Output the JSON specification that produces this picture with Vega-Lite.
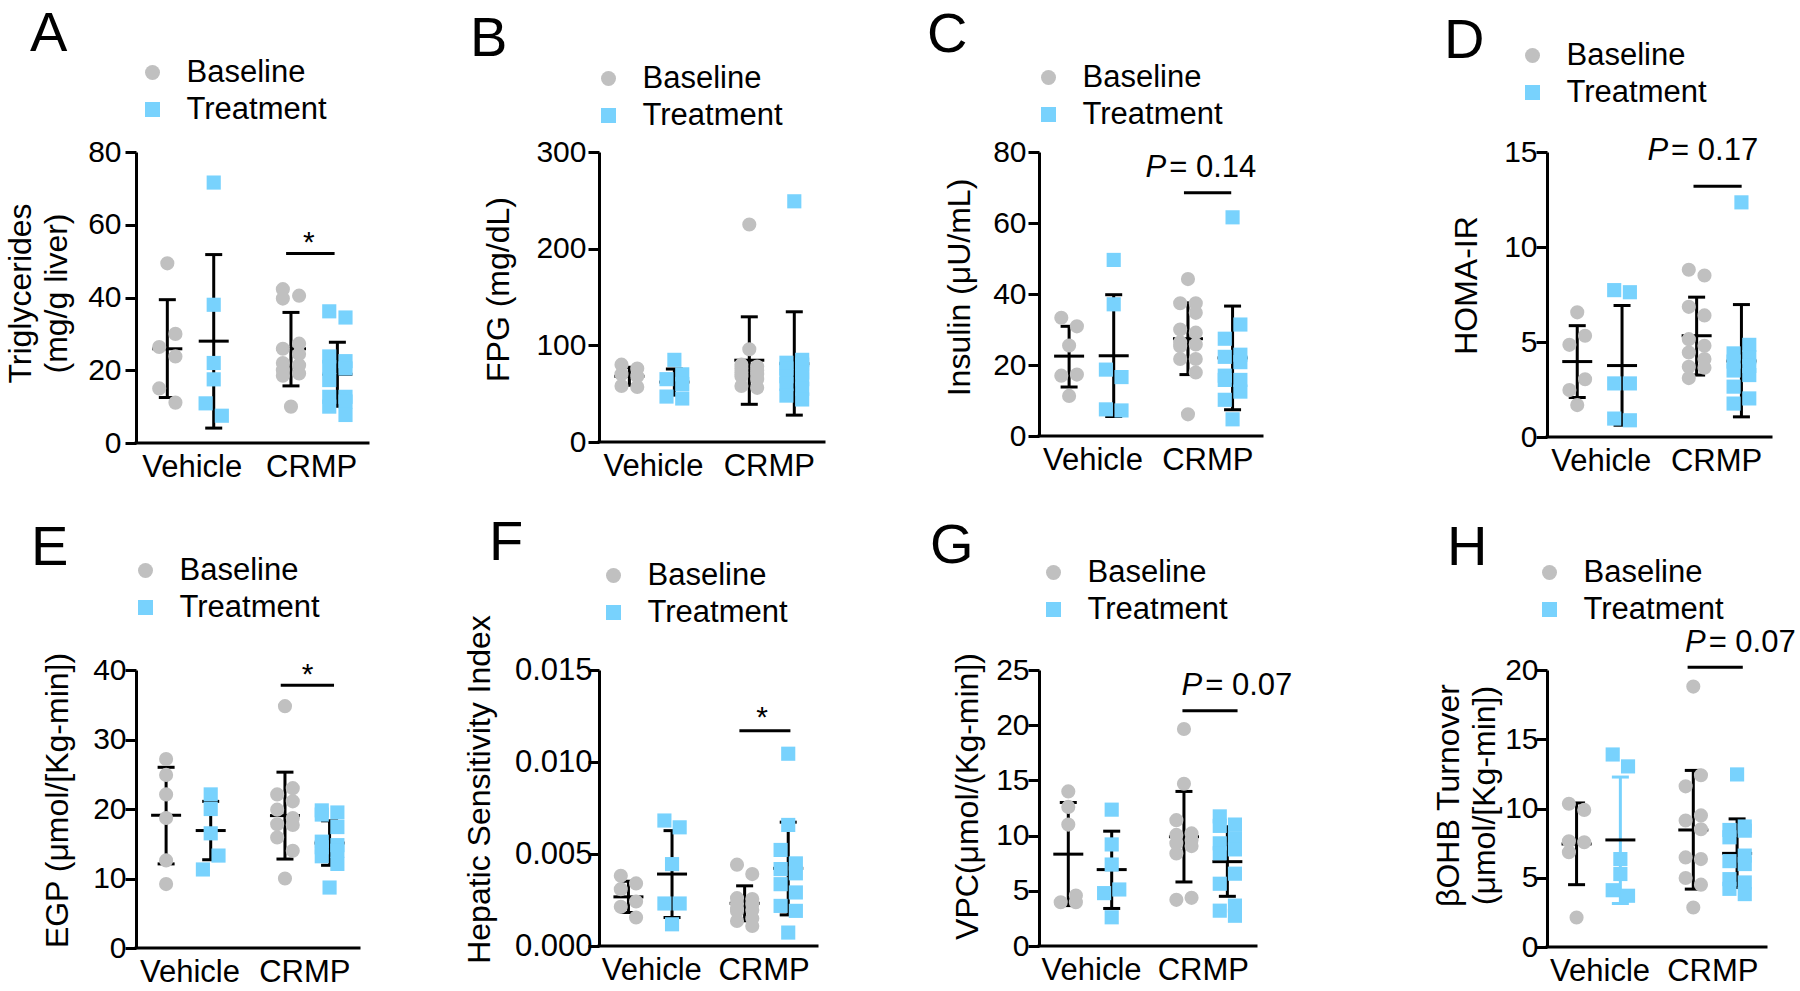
{
"$schema": "https://vega.github.io/schema/vega-lite/v6.json",
"padding": {"left": 4, "top": 6, "right": 0, "bottom": 0},
"background": "white",
"datasets": {
"pts": [
{"panel":"A","cond":"Vehicle","series":"Baseline","value":49.4},{"panel":"A","cond":"Vehicle","series":"Baseline","value":30},{"panel":"A","cond":"Vehicle","series":"Baseline","value":26.4},{"panel":"A","cond":"Vehicle","series":"Baseline","value":23.8},{"panel":"A","cond":"Vehicle","series":"Baseline","value":15},{"panel":"A","cond":"Vehicle","series":"Baseline","value":11.1},
{"panel":"A","cond":"Vehicle","series":"Treatment","value":71.6},{"panel":"A","cond":"Vehicle","series":"Treatment","value":38},{"panel":"A","cond":"Vehicle","series":"Treatment","value":22},{"panel":"A","cond":"Vehicle","series":"Treatment","value":17.5},{"panel":"A","cond":"Vehicle","series":"Treatment","value":10.9},{"panel":"A","cond":"Vehicle","series":"Treatment","value":7.5},
{"panel":"A","cond":"CRMP","series":"Baseline","value":42.3},{"panel":"A","cond":"CRMP","series":"Baseline","value":40.5},{"panel":"A","cond":"CRMP","series":"Baseline","value":39.7},{"panel":"A","cond":"CRMP","series":"Baseline","value":27.3},{"panel":"A","cond":"CRMP","series":"Baseline","value":25.9},{"panel":"A","cond":"CRMP","series":"Baseline","value":24.5},{"panel":"A","cond":"CRMP","series":"Baseline","value":22},{"panel":"A","cond":"CRMP","series":"Baseline","value":21.4},{"panel":"A","cond":"CRMP","series":"Baseline","value":20},{"panel":"A","cond":"CRMP","series":"Baseline","value":19.1},{"panel":"A","cond":"CRMP","series":"Baseline","value":18.5},{"panel":"A","cond":"CRMP","series":"Baseline","value":10},
{"panel":"A","cond":"CRMP","series":"Treatment","value":36.2},{"panel":"A","cond":"CRMP","series":"Treatment","value":34.5},{"panel":"A","cond":"CRMP","series":"Treatment","value":23.8},{"panel":"A","cond":"CRMP","series":"Treatment","value":22.5},{"panel":"A","cond":"CRMP","series":"Treatment","value":20.9},{"panel":"A","cond":"CRMP","series":"Treatment","value":20.5},{"panel":"A","cond":"CRMP","series":"Treatment","value":17.3},{"panel":"A","cond":"CRMP","series":"Treatment","value":12.7},{"panel":"A","cond":"CRMP","series":"Treatment","value":12.7},{"panel":"A","cond":"CRMP","series":"Treatment","value":11.4},{"panel":"A","cond":"CRMP","series":"Treatment","value":10},{"panel":"A","cond":"CRMP","series":"Treatment","value":7.7},
{"panel":"B","cond":"Vehicle","series":"Baseline","value":80},{"panel":"B","cond":"Vehicle","series":"Baseline","value":76},{"panel":"B","cond":"Vehicle","series":"Baseline","value":70},{"panel":"B","cond":"Vehicle","series":"Baseline","value":68},{"panel":"B","cond":"Vehicle","series":"Baseline","value":58},{"panel":"B","cond":"Vehicle","series":"Baseline","value":57},
{"panel":"B","cond":"Vehicle","series":"Treatment","value":85},{"panel":"B","cond":"Vehicle","series":"Treatment","value":70},{"panel":"B","cond":"Vehicle","series":"Treatment","value":65},{"panel":"B","cond":"Vehicle","series":"Treatment","value":60},{"panel":"B","cond":"Vehicle","series":"Treatment","value":47},{"panel":"B","cond":"Vehicle","series":"Treatment","value":45},
{"panel":"B","cond":"CRMP","series":"Baseline","value":225},{"panel":"B","cond":"CRMP","series":"Baseline","value":96},{"panel":"B","cond":"CRMP","series":"Baseline","value":80},{"panel":"B","cond":"CRMP","series":"Baseline","value":78},{"panel":"B","cond":"CRMP","series":"Baseline","value":76},{"panel":"B","cond":"CRMP","series":"Baseline","value":74},{"panel":"B","cond":"CRMP","series":"Baseline","value":72},{"panel":"B","cond":"CRMP","series":"Baseline","value":70},{"panel":"B","cond":"CRMP","series":"Baseline","value":68},{"panel":"B","cond":"CRMP","series":"Baseline","value":65},{"panel":"B","cond":"CRMP","series":"Baseline","value":58},{"panel":"B","cond":"CRMP","series":"Baseline","value":56},
{"panel":"B","cond":"CRMP","series":"Treatment","value":249},{"panel":"B","cond":"CRMP","series":"Treatment","value":85},{"panel":"B","cond":"CRMP","series":"Treatment","value":82},{"panel":"B","cond":"CRMP","series":"Treatment","value":80},{"panel":"B","cond":"CRMP","series":"Treatment","value":76},{"panel":"B","cond":"CRMP","series":"Treatment","value":72},{"panel":"B","cond":"CRMP","series":"Treatment","value":68},{"panel":"B","cond":"CRMP","series":"Treatment","value":65},{"panel":"B","cond":"CRMP","series":"Treatment","value":60},{"panel":"B","cond":"CRMP","series":"Treatment","value":55},{"panel":"B","cond":"CRMP","series":"Treatment","value":48},{"panel":"B","cond":"CRMP","series":"Treatment","value":44},
{"panel":"C","cond":"Vehicle","series":"Baseline","value":33.3},{"panel":"C","cond":"Vehicle","series":"Baseline","value":30.9},{"panel":"C","cond":"Vehicle","series":"Baseline","value":25.5},{"panel":"C","cond":"Vehicle","series":"Baseline","value":17.3},{"panel":"C","cond":"Vehicle","series":"Baseline","value":17},{"panel":"C","cond":"Vehicle","series":"Baseline","value":11.3},
{"panel":"C","cond":"Vehicle","series":"Treatment","value":49.6},{"panel":"C","cond":"Vehicle","series":"Treatment","value":37.1},{"panel":"C","cond":"Vehicle","series":"Treatment","value":18.7},{"panel":"C","cond":"Vehicle","series":"Treatment","value":16.6},{"panel":"C","cond":"Vehicle","series":"Treatment","value":7.5},{"panel":"C","cond":"Vehicle","series":"Treatment","value":7.2},
{"panel":"C","cond":"CRMP","series":"Baseline","value":44.2},{"panel":"C","cond":"CRMP","series":"Baseline","value":37.4},{"panel":"C","cond":"CRMP","series":"Baseline","value":37.4},{"panel":"C","cond":"CRMP","series":"Baseline","value":34.7},{"panel":"C","cond":"CRMP","series":"Baseline","value":30},{"panel":"C","cond":"CRMP","series":"Baseline","value":29.1},{"panel":"C","cond":"CRMP","series":"Baseline","value":26.4},{"panel":"C","cond":"CRMP","series":"Baseline","value":25.8},{"panel":"C","cond":"CRMP","series":"Baseline","value":25.3},{"panel":"C","cond":"CRMP","series":"Baseline","value":21.7},{"panel":"C","cond":"CRMP","series":"Baseline","value":21.7},{"panel":"C","cond":"CRMP","series":"Baseline","value":17.9},{"panel":"C","cond":"CRMP","series":"Baseline","value":6.1},
{"panel":"C","cond":"CRMP","series":"Treatment","value":61.6},{"panel":"C","cond":"CRMP","series":"Treatment","value":31.4},{"panel":"C","cond":"CRMP","series":"Treatment","value":27.4},{"panel":"C","cond":"CRMP","series":"Treatment","value":22.9},{"panel":"C","cond":"CRMP","series":"Treatment","value":22.3},{"panel":"C","cond":"CRMP","series":"Treatment","value":20.8},{"panel":"C","cond":"CRMP","series":"Treatment","value":17},{"panel":"C","cond":"CRMP","series":"Treatment","value":15.8},{"panel":"C","cond":"CRMP","series":"Treatment","value":15.8},{"panel":"C","cond":"CRMP","series":"Treatment","value":12.5},{"panel":"C","cond":"CRMP","series":"Treatment","value":10.2},{"panel":"C","cond":"CRMP","series":"Treatment","value":4.7},
{"panel":"D","cond":"Vehicle","series":"Baseline","value":6.56},{"panel":"D","cond":"Vehicle","series":"Baseline","value":5.33},{"panel":"D","cond":"Vehicle","series":"Baseline","value":4.85},{"panel":"D","cond":"Vehicle","series":"Baseline","value":3.04},{"panel":"D","cond":"Vehicle","series":"Baseline","value":2.47},{"panel":"D","cond":"Vehicle","series":"Baseline","value":1.68},
{"panel":"D","cond":"Vehicle","series":"Treatment","value":7.73},{"panel":"D","cond":"Vehicle","series":"Treatment","value":7.62},{"panel":"D","cond":"Vehicle","series":"Treatment","value":2.82},{"panel":"D","cond":"Vehicle","series":"Treatment","value":2.82},{"panel":"D","cond":"Vehicle","series":"Treatment","value":0.97},{"panel":"D","cond":"Vehicle","series":"Treatment","value":0.88},
{"panel":"D","cond":"CRMP","series":"Baseline","value":8.8},{"panel":"D","cond":"CRMP","series":"Baseline","value":8.5},{"panel":"D","cond":"CRMP","series":"Baseline","value":6.85},{"panel":"D","cond":"CRMP","series":"Baseline","value":6.4},{"panel":"D","cond":"CRMP","series":"Baseline","value":5.15},{"panel":"D","cond":"CRMP","series":"Baseline","value":4.8},{"panel":"D","cond":"CRMP","series":"Baseline","value":4.45},{"panel":"D","cond":"CRMP","series":"Baseline","value":4.1},{"panel":"D","cond":"CRMP","series":"Baseline","value":3.7},{"panel":"D","cond":"CRMP","series":"Baseline","value":3.65},{"panel":"D","cond":"CRMP","series":"Baseline","value":3.1},
{"panel":"D","cond":"CRMP","series":"Treatment","value":12.35},{"panel":"D","cond":"CRMP","series":"Treatment","value":4.85},{"panel":"D","cond":"CRMP","series":"Treatment","value":4.4},{"panel":"D","cond":"CRMP","series":"Treatment","value":4.2},{"panel":"D","cond":"CRMP","series":"Treatment","value":3.97},{"panel":"D","cond":"CRMP","series":"Treatment","value":3.74},{"panel":"D","cond":"CRMP","series":"Treatment","value":3.5},{"panel":"D","cond":"CRMP","series":"Treatment","value":3.26},{"panel":"D","cond":"CRMP","series":"Treatment","value":2.65},{"panel":"D","cond":"CRMP","series":"Treatment","value":2.03},{"panel":"D","cond":"CRMP","series":"Treatment","value":1.76},
{"panel":"E","cond":"Vehicle","series":"Baseline","value":27.2},{"panel":"E","cond":"Vehicle","series":"Baseline","value":24.9},{"panel":"E","cond":"Vehicle","series":"Baseline","value":22.1},{"panel":"E","cond":"Vehicle","series":"Baseline","value":18.7},{"panel":"E","cond":"Vehicle","series":"Baseline","value":12.6},{"panel":"E","cond":"Vehicle","series":"Baseline","value":9.2},
{"panel":"E","cond":"Vehicle","series":"Treatment","value":22.1},{"panel":"E","cond":"Vehicle","series":"Treatment","value":20.0},{"panel":"E","cond":"Vehicle","series":"Treatment","value":16.5},{"panel":"E","cond":"Vehicle","series":"Treatment","value":13.3},{"panel":"E","cond":"Vehicle","series":"Treatment","value":11.3},
{"panel":"E","cond":"CRMP","series":"Baseline","value":34.8},{"panel":"E","cond":"CRMP","series":"Baseline","value":23},{"panel":"E","cond":"CRMP","series":"Baseline","value":22.1},{"panel":"E","cond":"CRMP","series":"Baseline","value":21.1},{"panel":"E","cond":"CRMP","series":"Baseline","value":19.9},{"panel":"E","cond":"CRMP","series":"Baseline","value":18.7},{"panel":"E","cond":"CRMP","series":"Baseline","value":17.8},{"panel":"E","cond":"CRMP","series":"Baseline","value":17.7},{"panel":"E","cond":"CRMP","series":"Baseline","value":15.9},{"panel":"E","cond":"CRMP","series":"Baseline","value":14},{"panel":"E","cond":"CRMP","series":"Baseline","value":10},
{"panel":"E","cond":"CRMP","series":"Treatment","value":19.8},{"panel":"E","cond":"CRMP","series":"Treatment","value":19.5},{"panel":"E","cond":"CRMP","series":"Treatment","value":19.2},{"panel":"E","cond":"CRMP","series":"Treatment","value":17.4},{"panel":"E","cond":"CRMP","series":"Treatment","value":15.3},{"panel":"E","cond":"CRMP","series":"Treatment","value":14.8},{"panel":"E","cond":"CRMP","series":"Treatment","value":14.5},{"panel":"E","cond":"CRMP","series":"Treatment","value":14},{"panel":"E","cond":"CRMP","series":"Treatment","value":13.2},{"panel":"E","cond":"CRMP","series":"Treatment","value":12.1},{"panel":"E","cond":"CRMP","series":"Treatment","value":8.7},
{"panel":"F","cond":"Vehicle","series":"Baseline","value":0.00382},{"panel":"F","cond":"Vehicle","series":"Baseline","value":0.0034},{"panel":"F","cond":"Vehicle","series":"Baseline","value":0.00309},{"panel":"F","cond":"Vehicle","series":"Baseline","value":0.00242},{"panel":"F","cond":"Vehicle","series":"Baseline","value":0.00213},{"panel":"F","cond":"Vehicle","series":"Baseline","value":0.00155},
{"panel":"F","cond":"Vehicle","series":"Treatment","value":0.00682},{"panel":"F","cond":"Vehicle","series":"Treatment","value":0.00645},{"panel":"F","cond":"Vehicle","series":"Treatment","value":0.00445},{"panel":"F","cond":"Vehicle","series":"Treatment","value":0.00231},{"panel":"F","cond":"Vehicle","series":"Treatment","value":0.00231},{"panel":"F","cond":"Vehicle","series":"Treatment","value":0.00118},
{"panel":"F","cond":"CRMP","series":"Baseline","value":0.00442},{"panel":"F","cond":"CRMP","series":"Baseline","value":0.00391},{"panel":"F","cond":"CRMP","series":"Baseline","value":0.0026},{"panel":"F","cond":"CRMP","series":"Baseline","value":0.00255},{"panel":"F","cond":"CRMP","series":"Baseline","value":0.0023},{"panel":"F","cond":"CRMP","series":"Baseline","value":0.00227},{"panel":"F","cond":"CRMP","series":"Baseline","value":0.002},{"panel":"F","cond":"CRMP","series":"Baseline","value":0.00195},{"panel":"F","cond":"CRMP","series":"Baseline","value":0.0019},{"panel":"F","cond":"CRMP","series":"Baseline","value":0.0015},{"panel":"F","cond":"CRMP","series":"Baseline","value":0.00136},{"panel":"F","cond":"CRMP","series":"Baseline","value":0.00109},
{"panel":"F","cond":"CRMP","series":"Treatment","value":0.01045},{"panel":"F","cond":"CRMP","series":"Treatment","value":0.00658},{"panel":"F","cond":"CRMP","series":"Treatment","value":0.00522},{"panel":"F","cond":"CRMP","series":"Treatment","value":0.00449},{"panel":"F","cond":"CRMP","series":"Treatment","value":0.00418},{"panel":"F","cond":"CRMP","series":"Treatment","value":0.00395},{"panel":"F","cond":"CRMP","series":"Treatment","value":0.00336},{"panel":"F","cond":"CRMP","series":"Treatment","value":0.00291},{"panel":"F","cond":"CRMP","series":"Treatment","value":0.00218},{"panel":"F","cond":"CRMP","series":"Treatment","value":0.00191},{"panel":"F","cond":"CRMP","series":"Treatment","value":0.00073},
{"panel":"G","cond":"Vehicle","series":"Baseline","value":14.0},{"panel":"G","cond":"Vehicle","series":"Baseline","value":12.6},{"panel":"G","cond":"Vehicle","series":"Baseline","value":11.0},{"panel":"G","cond":"Vehicle","series":"Baseline","value":4.57},{"panel":"G","cond":"Vehicle","series":"Baseline","value":3.96},{"panel":"G","cond":"Vehicle","series":"Baseline","value":3.96},
{"panel":"G","cond":"Vehicle","series":"Treatment","value":12.35},{"panel":"G","cond":"Vehicle","series":"Treatment","value":9.2},{"panel":"G","cond":"Vehicle","series":"Treatment","value":7.38},{"panel":"G","cond":"Vehicle","series":"Treatment","value":5.12},{"panel":"G","cond":"Vehicle","series":"Treatment","value":4.79},{"panel":"G","cond":"Vehicle","series":"Treatment","value":2.6},
{"panel":"G","cond":"CRMP","series":"Baseline","value":19.66},{"panel":"G","cond":"CRMP","series":"Baseline","value":14.7},{"panel":"G","cond":"CRMP","series":"Baseline","value":11.4},{"panel":"G","cond":"CRMP","series":"Baseline","value":10.2},{"panel":"G","cond":"CRMP","series":"Baseline","value":10.06},{"panel":"G","cond":"CRMP","series":"Baseline","value":9.6},{"panel":"G","cond":"CRMP","series":"Baseline","value":9.3},{"panel":"G","cond":"CRMP","series":"Baseline","value":9.05},{"panel":"G","cond":"CRMP","series":"Baseline","value":8.38},{"panel":"G","cond":"CRMP","series":"Baseline","value":4.36},{"panel":"G","cond":"CRMP","series":"Baseline","value":4.18},
{"panel":"G","cond":"CRMP","series":"Treatment","value":11.74},{"panel":"G","cond":"CRMP","series":"Treatment","value":11},{"panel":"G","cond":"CRMP","series":"Treatment","value":10.88},{"panel":"G","cond":"CRMP","series":"Treatment","value":9.76},{"panel":"G","cond":"CRMP","series":"Treatment","value":9.3},{"panel":"G","cond":"CRMP","series":"Treatment","value":8.75},{"panel":"G","cond":"CRMP","series":"Treatment","value":8.4},{"panel":"G","cond":"CRMP","series":"Treatment","value":6.55},{"panel":"G","cond":"CRMP","series":"Treatment","value":5.64},{"panel":"G","cond":"CRMP","series":"Treatment","value":3.66},{"panel":"G","cond":"CRMP","series":"Treatment","value":3.2},{"panel":"G","cond":"CRMP","series":"Treatment","value":2.74},
{"panel":"H","cond":"Vehicle","series":"Baseline","value":10.34},{"panel":"H","cond":"Vehicle","series":"Baseline","value":9.9},{"panel":"H","cond":"Vehicle","series":"Baseline","value":7.63},{"panel":"H","cond":"Vehicle","series":"Baseline","value":7.56},{"panel":"H","cond":"Vehicle","series":"Baseline","value":6.84},{"panel":"H","cond":"Vehicle","series":"Baseline","value":2.13},
{"panel":"H","cond":"Vehicle","series":"Treatment","value":13.9},{"panel":"H","cond":"Vehicle","series":"Treatment","value":13.04},{"panel":"H","cond":"Vehicle","series":"Treatment","value":6.35},{"panel":"H","cond":"Vehicle","series":"Treatment","value":5.27},{"panel":"H","cond":"Vehicle","series":"Treatment","value":4.1},{"panel":"H","cond":"Vehicle","series":"Treatment","value":3.7},
{"panel":"H","cond":"CRMP","series":"Baseline","value":18.8},{"panel":"H","cond":"CRMP","series":"Baseline","value":12.4},{"panel":"H","cond":"CRMP","series":"Baseline","value":11.6},{"panel":"H","cond":"CRMP","series":"Baseline","value":9.5},{"panel":"H","cond":"CRMP","series":"Baseline","value":9.13},{"panel":"H","cond":"CRMP","series":"Baseline","value":8.5},{"panel":"H","cond":"CRMP","series":"Baseline","value":6.47},{"panel":"H","cond":"CRMP","series":"Baseline","value":6.35},{"panel":"H","cond":"CRMP","series":"Baseline","value":4.98},{"panel":"H","cond":"CRMP","series":"Baseline","value":4.5},{"panel":"H","cond":"CRMP","series":"Baseline","value":2.85},
{"panel":"H","cond":"CRMP","series":"Treatment","value":12.46},{"panel":"H","cond":"CRMP","series":"Treatment","value":8.7},{"panel":"H","cond":"CRMP","series":"Treatment","value":8.45},{"panel":"H","cond":"CRMP","series":"Treatment","value":8.4},{"panel":"H","cond":"CRMP","series":"Treatment","value":7.92},{"panel":"H","cond":"CRMP","series":"Treatment","value":6.6},{"panel":"H","cond":"CRMP","series":"Treatment","value":6.2},{"panel":"H","cond":"CRMP","series":"Treatment","value":5.99},{"panel":"H","cond":"CRMP","series":"Treatment","value":4.9},{"panel":"H","cond":"CRMP","series":"Treatment","value":4.66},{"panel":"H","cond":"CRMP","series":"Treatment","value":4.2},{"panel":"H","cond":"CRMP","series":"Treatment","value":3.82}
],
"stats": [
{"panel":"A","cond":"Vehicle","series":"Baseline","mean":25.9,"lo":12.5,"hi":39.4},{"panel":"A","cond":"Vehicle","series":"Treatment","mean":28,"lo":4.1,"hi":51.8},{"panel":"A","cond":"CRMP","series":"Baseline","mean":25.9,"lo":15.7,"hi":35.9},{"panel":"A","cond":"CRMP","series":"Treatment","mean":18.9,"lo":10.1,"hi":27.7},
{"panel":"B","cond":"Vehicle","series":"Baseline","mean":68,"lo":58.7,"hi":77.3},{"panel":"B","cond":"Vehicle","series":"Treatment","mean":62,"lo":48.5,"hi":75.5},{"panel":"B","cond":"CRMP","series":"Baseline","mean":84.6,"lo":39,"hi":129.5},{"panel":"B","cond":"CRMP","series":"Treatment","mean":81,"lo":27.8,"hi":134.7},
{"panel":"C","cond":"Vehicle","series":"Baseline","mean":22.5,"lo":13.8,"hi":30.9},{"panel":"C","cond":"Vehicle","series":"Treatment","mean":22.6,"lo":5.5,"hi":39.8},{"panel":"C","cond":"CRMP","series":"Baseline","mean":27.4,"lo":17.3,"hi":37.5},{"panel":"C","cond":"CRMP","series":"Treatment","mean":22,"lo":7.4,"hi":36.6},
{"panel":"D","cond":"Vehicle","series":"Baseline","mean":3.97,"lo":2.08,"hi":5.86},{"panel":"D","cond":"Vehicle","series":"Treatment","mean":3.76,"lo":0.62,"hi":6.92},{"panel":"D","cond":"CRMP","series":"Baseline","mean":5.33,"lo":3.26,"hi":7.36},{"panel":"D","cond":"CRMP","series":"Treatment","mean":4.0,"lo":1.06,"hi":6.97},
{"panel":"E","cond":"Vehicle","series":"Baseline","mean":19.1,"lo":12.1,"hi":26},{"panel":"E","cond":"Vehicle","series":"Treatment","mean":16.9,"lo":12.7,"hi":21.1},{"panel":"E","cond":"CRMP","series":"Baseline","mean":19.05,"lo":12.8,"hi":25.3},{"panel":"E","cond":"CRMP","series":"Treatment","mean":15.1,"lo":11.9,"hi":18.3},
{"panel":"F","cond":"Vehicle","series":"Baseline","mean":0.00267,"lo":0.00182,"hi":0.00352},{"panel":"F","cond":"Vehicle","series":"Treatment","mean":0.00391,"lo":0.00155,"hi":0.00627},{"panel":"F","cond":"CRMP","series":"Baseline","mean":0.00232,"lo":0.00137,"hi":0.00327},{"panel":"F","cond":"CRMP","series":"Treatment","mean":0.00422,"lo":0.00169,"hi":0.00673},
{"panel":"G","cond":"Vehicle","series":"Baseline","mean":8.32,"lo":3.66,"hi":13.0},{"panel":"G","cond":"Vehicle","series":"Treatment","mean":6.92,"lo":3.4,"hi":10.4},{"panel":"G","cond":"CRMP","series":"Baseline","mean":9.9,"lo":5.8,"hi":14.0},{"panel":"G","cond":"CRMP","series":"Treatment","mean":7.64,"lo":4.5,"hi":10.8},
{"panel":"H","cond":"Vehicle","series":"Baseline","mean":7.44,"lo":4.5,"hi":10.4},{"panel":"H","cond":"Vehicle","series":"Treatment","mean":7.73,"lo":3.14,"hi":12.27},{"panel":"H","cond":"CRMP","series":"Baseline","mean":8.45,"lo":4.18,"hi":12.75},{"panel":"H","cond":"CRMP","series":"Treatment","mean":6.76,"lo":4.3,"hi":9.25}
],
"sig": [
{"panel":"A","y":52.1,"x1":6.47,"x2":8.56,"tx":7.45,"ty":52.6,"p":"","label":"*"},
{"panel":"C","y":68.5,"x1":6.5,"x2":8.62,"tx":5.75,"ty":72.9,"p":"P","label":"= 0.14"},
{"panel":"D","y":13.2,"x1":6.54,"x2":8.69,"tx":5.45,"ty":14.56,"p":"P","label":"= 0.17"},
{"panel":"E","y":37.8,"x1":6.49,"x2":8.88,"tx":7.69,"ty":38.0,"p":"","label":"*"},
{"panel":"F","y":0.0117,"x1":6.44,"x2":8.78,"tx":7.48,"ty":0.0119,"p":"","label":"*"},
{"panel":"G","y":21.3,"x1":6.61,"x2":9.15,"tx":7.57,"ty":22.7,"p":"P","label":"= 0.07"},
{"panel":"H","y":20.2,"x1":6.42,"x2":8.94,"tx":7.29,"ty":21.3,"p":"P","label":"= 0.07"}
]
},
"columns": 4,
"spacing": {"row": 227, "column": 0},
"bounds": "flush",
"align": "each",
"resolve": {"scale": {"color": "independent", "shape": "independent"}},
"concat": [
{
"width": 463, "height": 291,
"title": {"text": "A", "dx": -106, "offset": -6},
"layer": [
{"data": {"values": [{}]}, "mark": {"type": "rule", "strokeWidth": 3, "color": "black", "strokeCap": "square"},
 "encoding": {"x": {"datum": 0, "type": "quantitative", "scale": {"domain": [0, 19.957], "nice": false, "zero": false}, "axis": {"values": [2.4, 7.55], "labelExpr": "datum.value < 5 ? 'Vehicle' : 'CRMP'", "title": null, "domain": false, "ticks": false, "labelPadding": 9, "labelFontSize": 31}}, "x2": {"datum": 10},
 "y": {"datum": 0, "type": "quantitative", "scale": {"domain": [0, 80], "nice": false}, "axis": {"values": [0, 20, 40, 60, 80], "title": ["Triglycerides", "(mg/g liver)"], "titlePadding": 14, "labelPadding": 4, "titleY": 141}}}},
{"data": {"name": "stats"}, "transform": [{"filter": "datum.panel == 'A'"}, {"calculate": "(datum.cond == 'Vehicle' ? 1.35 : 6.68) + (datum.series == 'Treatment' ? 2 : 0)", "as": "xpos"}],
 "mark": {"type": "rule", "strokeWidth": 3, "color": "black"},
 "encoding": {"x": {"field": "xpos", "type": "quantitative", "scale": {"domain": [0, 19.957], "nice": false, "zero": false}}, "y": {"field": "lo", "type": "quantitative", "scale": {"domain": [0, 80], "nice": false}}, "y2": {"field": "hi"}}},
{"data": {"name": "stats"}, "transform": [{"filter": "datum.panel == 'A'"}, {"calculate": "(datum.cond == 'Vehicle' ? 1.35 : 6.68) + (datum.series == 'Treatment' ? 2 : 0)", "as": "xpos"}, {"fold": ["lo", "hi"], "as": ["bound", "bv"]}],
 "mark": {"type": "tick", "orient": "horizontal", "size": 17, "thickness": 3, "color": "black", "opacity": 1},
 "encoding": {"x": {"field": "xpos", "type": "quantitative", "scale": {"domain": [0, 19.957], "nice": false, "zero": false}}, "y": {"field": "bv", "type": "quantitative", "scale": {"domain": [0, 80], "nice": false}}}},
{"data": {"name": "stats"}, "transform": [{"filter": "datum.panel == 'A'"}, {"calculate": "(datum.cond == 'Vehicle' ? 1.35 : 6.68) + (datum.series == 'Treatment' ? 2 : 0)", "as": "xpos"}],
 "mark": {"type": "tick", "orient": "horizontal", "size": 30, "thickness": 3, "color": "black", "opacity": 1},
 "encoding": {"x": {"field": "xpos", "type": "quantitative", "scale": {"domain": [0, 19.957], "nice": false, "zero": false}}, "y": {"field": "mean", "type": "quantitative", "scale": {"domain": [0, 80], "nice": false}}}},
{"data": {"name": "pts"}, "transform": [{"filter": "datum.panel == 'A'"}, {"window": [{"op": "row_number", "as": "rn"}, {"op": "lag", "field": "value", "as": "prev"}, {"op": "lead", "field": "value", "as": "next"}], "groupby": ["cond", "series"], "sort": [{"field": "value", "order": "descending"}]}, {"calculate": "(datum.cond == 'Vehicle' ? 1.35 : 6.68) + (datum.series == 'Treatment' ? 2 : 0) + (((datum.prev == null || datum.prev - datum.value > 4) && (datum.next == null || datum.value - datum.next > 4)) ? 0 : (datum.rn % 2 == 0 ? 0.35 : -0.35))", "as": "xpos"}],
 "mark": {"type": "point", "filled": true, "opacity": 1, "size": 200, "strokeWidth": 0},
 "encoding": {"x": {"field": "xpos", "type": "quantitative", "scale": {"domain": [0, 19.957], "nice": false, "zero": false}}, "y": {"field": "value", "type": "quantitative", "scale": {"domain": [0, 80], "nice": false}},
  "color": {"field": "series", "type": "nominal", "scale": {"domain": ["Baseline", "Treatment"], "range": ["#c0c0c0", "#78d2fd"]}, "legend": {"orient": "none", "legendX": 1, "legendY": -95, "title": null}},
  "shape": {"field": "series", "type": "nominal", "scale": {"domain": ["Baseline", "Treatment"], "range": ["circle", "square"]}, "legend": {"orient": "none", "legendX": 1, "legendY": -95, "title": null}}}},
{"data": {"name": "sig"}, "transform": [{"filter": "datum.panel == 'A'"}], "mark": {"type": "rule", "strokeWidth": 3, "color": "black"},
 "encoding": {"x": {"field": "x1", "type": "quantitative", "scale": {"domain": [0, 19.957], "nice": false, "zero": false}}, "x2": {"field": "x2"}, "y": {"field": "y", "type": "quantitative", "scale": {"domain": [0, 80], "nice": false}}}},
{"data": {"name": "sig"}, "transform": [{"filter": "datum.panel == 'A'"}], "mark": {"type": "text", "fontSize": 30, "align": "center", "baseline": "alphabetic", "color": "black"},
 "encoding": {"x": {"field": "tx", "type": "quantitative", "scale": {"domain": [0, 19.957], "nice": false, "zero": false}}, "y": {"field": "ty", "type": "quantitative", "scale": {"domain": [0, 80], "nice": false}}, "text": {"field": "label"}}}
]
},
{
"width": 440, "height": 290,
"title": {"text": "B", "dx": -129, "offset": -5},
"layer": [
{"data": {"values": [{}]}, "mark": {"type": "rule", "strokeWidth": 3, "color": "black", "strokeCap": "square"},
 "encoding": {"x": {"datum": 0, "type": "quantitative", "scale": {"domain": [0, 19.556], "nice": false, "zero": false}, "axis": {"values": [2.4, 7.55], "labelExpr": "datum.value < 5 ? 'Vehicle' : 'CRMP'", "title": null, "domain": false, "ticks": false, "labelPadding": 9, "labelFontSize": 31}}, "x2": {"datum": 10},
 "y": {"datum": 0, "type": "quantitative", "scale": {"domain": [0, 300], "nice": false}, "axis": {"values": [0, 100, 200, 300], "title": "FPG (mg/dL)", "titlePadding": 20, "labelPadding": 2, "titleY": 137}}}},
{"data": {"name": "stats"}, "transform": [{"filter": "datum.panel == 'B'"}, {"calculate": "(datum.cond == 'Vehicle' ? 1.35 : 6.68) + (datum.series == 'Treatment' ? 2 : 0)", "as": "xpos"}],
 "mark": {"type": "rule", "strokeWidth": 3, "color": "black"},
 "encoding": {"x": {"field": "xpos", "type": "quantitative", "scale": {"domain": [0, 19.556], "nice": false, "zero": false}}, "y": {"field": "lo", "type": "quantitative", "scale": {"domain": [0, 300], "nice": false}}, "y2": {"field": "hi"}}},
{"data": {"name": "stats"}, "transform": [{"filter": "datum.panel == 'B'"}, {"calculate": "(datum.cond == 'Vehicle' ? 1.35 : 6.68) + (datum.series == 'Treatment' ? 2 : 0)", "as": "xpos"}, {"fold": ["lo", "hi"], "as": ["bound", "bv"]}],
 "mark": {"type": "tick", "orient": "horizontal", "size": 17, "thickness": 3, "color": "black", "opacity": 1},
 "encoding": {"x": {"field": "xpos", "type": "quantitative", "scale": {"domain": [0, 19.556], "nice": false, "zero": false}}, "y": {"field": "bv", "type": "quantitative", "scale": {"domain": [0, 300], "nice": false}}}},
{"data": {"name": "stats"}, "transform": [{"filter": "datum.panel == 'B'"}, {"calculate": "(datum.cond == 'Vehicle' ? 1.35 : 6.68) + (datum.series == 'Treatment' ? 2 : 0)", "as": "xpos"}],
 "mark": {"type": "tick", "orient": "horizontal", "size": 30, "thickness": 3, "color": "black", "opacity": 1},
 "encoding": {"x": {"field": "xpos", "type": "quantitative", "scale": {"domain": [0, 19.556], "nice": false, "zero": false}}, "y": {"field": "mean", "type": "quantitative", "scale": {"domain": [0, 300], "nice": false}}}},
{"data": {"name": "pts"}, "transform": [{"filter": "datum.panel == 'B'"}, {"window": [{"op": "row_number", "as": "rn"}, {"op": "lag", "field": "value", "as": "prev"}, {"op": "lead", "field": "value", "as": "next"}], "groupby": ["cond", "series"], "sort": [{"field": "value", "order": "descending"}]}, {"calculate": "(datum.cond == 'Vehicle' ? 1.35 : 6.68) + (datum.series == 'Treatment' ? 2 : 0) + (((datum.prev == null || datum.prev - datum.value > 14) && (datum.next == null || datum.value - datum.next > 14)) ? 0 : (datum.rn % 2 == 0 ? 0.35 : -0.35))", "as": "xpos"}],
 "mark": {"type": "point", "filled": true, "opacity": 1, "size": 200, "strokeWidth": 0},
 "encoding": {"x": {"field": "xpos", "type": "quantitative", "scale": {"domain": [0, 19.556], "nice": false, "zero": false}}, "y": {"field": "value", "type": "quantitative", "scale": {"domain": [0, 300], "nice": false}},
  "color": {"field": "series", "type": "nominal", "scale": {"domain": ["Baseline", "Treatment"], "range": ["#c0c0c0", "#78d2fd"]}, "legend": {"orient": "none", "legendX": -6, "legendY": -89, "title": null}},
  "shape": {"field": "series", "type": "nominal", "scale": {"domain": ["Baseline", "Treatment"], "range": ["circle", "square"]}, "legend": {"orient": "none", "legendX": -6, "legendY": -89, "title": null}}}}
]
},
{
"width": 508, "height": 284,
"title": {"text": "C", "dx": -112, "offset": -2},
"layer": [
{"data": {"values": [{}]}, "mark": {"type": "rule", "strokeWidth": 3, "color": "black", "strokeCap": "square"},
 "encoding": {"x": {"datum": 0, "type": "quantitative", "scale": {"domain": [0, 22.78], "nice": false, "zero": false}, "axis": {"values": [2.4, 7.55], "labelExpr": "datum.value < 5 ? 'Vehicle' : 'CRMP'", "title": null, "domain": false, "ticks": false, "labelPadding": 9, "labelFontSize": 31}}, "x2": {"datum": 10},
 "y": {"datum": 0, "type": "quantitative", "scale": {"domain": [0, 80], "nice": false}, "axis": {"values": [0, 20, 40, 60, 80], "title": "Insulin (μU/mL)", "titlePadding": 16, "labelPadding": 2, "titleY": 135}}}},
{"data": {"name": "stats"}, "transform": [{"filter": "datum.panel == 'C'"}, {"calculate": "(datum.cond == 'Vehicle' ? 1.35 : 6.68) + (datum.series == 'Treatment' ? 2 : 0)", "as": "xpos"}],
 "mark": {"type": "rule", "strokeWidth": 3, "color": "black"},
 "encoding": {"x": {"field": "xpos", "type": "quantitative", "scale": {"domain": [0, 22.78], "nice": false, "zero": false}}, "y": {"field": "lo", "type": "quantitative", "scale": {"domain": [0, 80], "nice": false}}, "y2": {"field": "hi"}}},
{"data": {"name": "stats"}, "transform": [{"filter": "datum.panel == 'C'"}, {"calculate": "(datum.cond == 'Vehicle' ? 1.35 : 6.68) + (datum.series == 'Treatment' ? 2 : 0)", "as": "xpos"}, {"fold": ["lo", "hi"], "as": ["bound", "bv"]}],
 "mark": {"type": "tick", "orient": "horizontal", "size": 17, "thickness": 3, "color": "black", "opacity": 1},
 "encoding": {"x": {"field": "xpos", "type": "quantitative", "scale": {"domain": [0, 22.78], "nice": false, "zero": false}}, "y": {"field": "bv", "type": "quantitative", "scale": {"domain": [0, 80], "nice": false}}}},
{"data": {"name": "stats"}, "transform": [{"filter": "datum.panel == 'C'"}, {"calculate": "(datum.cond == 'Vehicle' ? 1.35 : 6.68) + (datum.series == 'Treatment' ? 2 : 0)", "as": "xpos"}],
 "mark": {"type": "tick", "orient": "horizontal", "size": 30, "thickness": 3, "color": "black", "opacity": 1},
 "encoding": {"x": {"field": "xpos", "type": "quantitative", "scale": {"domain": [0, 22.78], "nice": false, "zero": false}}, "y": {"field": "mean", "type": "quantitative", "scale": {"domain": [0, 80], "nice": false}}}},
{"data": {"name": "pts"}, "transform": [{"filter": "datum.panel == 'C'"}, {"window": [{"op": "row_number", "as": "rn"}, {"op": "lag", "field": "value", "as": "prev"}, {"op": "lead", "field": "value", "as": "next"}], "groupby": ["cond", "series"], "sort": [{"field": "value", "order": "descending"}]}, {"calculate": "(datum.cond == 'Vehicle' ? 1.35 : 6.68) + (datum.series == 'Treatment' ? 2 : 0) + (((datum.prev == null || datum.prev - datum.value > 4) && (datum.next == null || datum.value - datum.next > 4)) ? 0 : (datum.rn % 2 == 0 ? 0.35 : -0.35))", "as": "xpos"}],
 "mark": {"type": "point", "filled": true, "opacity": 1, "size": 200, "strokeWidth": 0},
 "encoding": {"x": {"field": "xpos", "type": "quantitative", "scale": {"domain": [0, 22.78], "nice": false, "zero": false}}, "y": {"field": "value", "type": "quantitative", "scale": {"domain": [0, 80], "nice": false}},
  "color": {"field": "series", "type": "nominal", "scale": {"domain": ["Baseline", "Treatment"], "range": ["#c0c0c0", "#78d2fd"]}, "legend": {"orient": "none", "legendX": -6, "legendY": -90, "title": null}},
  "shape": {"field": "series", "type": "nominal", "scale": {"domain": ["Baseline", "Treatment"], "range": ["circle", "square"]}, "legend": {"orient": "none", "legendX": -6, "legendY": -90, "title": null}}}},
{"data": {"name": "sig"}, "transform": [{"filter": "datum.panel == 'C'"}], "mark": {"type": "rule", "strokeWidth": 3, "color": "black"},
 "encoding": {"x": {"field": "x1", "type": "quantitative", "scale": {"domain": [0, 22.78], "nice": false, "zero": false}}, "x2": {"field": "x2"}, "y": {"field": "y", "type": "quantitative", "scale": {"domain": [0, 80], "nice": false}}}},
{"data": {"name": "sig"}, "transform": [{"filter": "datum.panel == 'C'"}], "mark": {"type": "text", "fontSize": 31, "fontStyle": "italic", "align": "right", "baseline": "alphabetic", "dx": -1, "color": "black"},
 "encoding": {"x": {"field": "tx", "type": "quantitative", "scale": {"domain": [0, 22.78], "nice": false, "zero": false}}, "y": {"field": "ty", "type": "quantitative", "scale": {"domain": [0, 80], "nice": false}}, "text": {"field": "p"}}},
{"data": {"name": "sig"}, "transform": [{"filter": "datum.panel == 'C'"}], "mark": {"type": "text", "fontSize": 31, "align": "left", "baseline": "alphabetic", "dx": 2, "color": "black"},
 "encoding": {"x": {"field": "tx", "type": "quantitative", "scale": {"domain": [0, 22.78], "nice": false, "zero": false}}, "y": {"field": "ty", "type": "quantitative", "scale": {"domain": [0, 80], "nice": false}}, "text": {"field": "label"}}}
]
},
{
"width": 224, "height": 285,
"title": {"text": "D", "dx": -103, "offset": -30},
"layer": [
{"data": {"values": [{}]}, "mark": {"type": "rule", "strokeWidth": 3, "color": "black", "strokeCap": "square"},
 "encoding": {"x": {"datum": 0, "type": "quantitative", "scale": {"domain": [0, 10], "nice": false, "zero": false}, "axis": {"values": [2.4, 7.55], "labelExpr": "datum.value < 5 ? 'Vehicle' : 'CRMP'", "title": null, "domain": false, "ticks": false, "labelPadding": 9, "labelFontSize": 31}}, "x2": {"datum": 10},
 "y": {"datum": 0, "type": "quantitative", "scale": {"domain": [0, 15], "nice": false}, "axis": {"values": [0, 5, 10, 15], "title": "HOMA-IR", "titlePadding": 20, "labelPadding": -1, "titleY": 133}}}},
{"data": {"name": "stats"}, "transform": [{"filter": "datum.panel == 'D'"}, {"calculate": "(datum.cond == 'Vehicle' ? 1.35 : 6.68) + (datum.series == 'Treatment' ? 2 : 0)", "as": "xpos"}],
 "mark": {"type": "rule", "strokeWidth": 3, "color": "black"},
 "encoding": {"x": {"field": "xpos", "type": "quantitative", "scale": {"domain": [0, 10], "nice": false, "zero": false}}, "y": {"field": "lo", "type": "quantitative", "scale": {"domain": [0, 15], "nice": false}}, "y2": {"field": "hi"}}},
{"data": {"name": "stats"}, "transform": [{"filter": "datum.panel == 'D'"}, {"calculate": "(datum.cond == 'Vehicle' ? 1.35 : 6.68) + (datum.series == 'Treatment' ? 2 : 0)", "as": "xpos"}, {"fold": ["lo", "hi"], "as": ["bound", "bv"]}],
 "mark": {"type": "tick", "orient": "horizontal", "size": 17, "thickness": 3, "color": "black", "opacity": 1},
 "encoding": {"x": {"field": "xpos", "type": "quantitative", "scale": {"domain": [0, 10], "nice": false, "zero": false}}, "y": {"field": "bv", "type": "quantitative", "scale": {"domain": [0, 15], "nice": false}}}},
{"data": {"name": "stats"}, "transform": [{"filter": "datum.panel == 'D'"}, {"calculate": "(datum.cond == 'Vehicle' ? 1.35 : 6.68) + (datum.series == 'Treatment' ? 2 : 0)", "as": "xpos"}],
 "mark": {"type": "tick", "orient": "horizontal", "size": 30, "thickness": 3, "color": "black", "opacity": 1},
 "encoding": {"x": {"field": "xpos", "type": "quantitative", "scale": {"domain": [0, 10], "nice": false, "zero": false}}, "y": {"field": "mean", "type": "quantitative", "scale": {"domain": [0, 15], "nice": false}}}},
{"data": {"name": "pts"}, "transform": [{"filter": "datum.panel == 'D'"}, {"window": [{"op": "row_number", "as": "rn"}, {"op": "lag", "field": "value", "as": "prev"}, {"op": "lead", "field": "value", "as": "next"}], "groupby": ["cond", "series"], "sort": [{"field": "value", "order": "descending"}]}, {"calculate": "(datum.cond == 'Vehicle' ? 1.35 : 6.68) + (datum.series == 'Treatment' ? 2 : 0) + (((datum.prev == null || datum.prev - datum.value > 0.75) && (datum.next == null || datum.value - datum.next > 0.75)) ? 0 : (datum.rn % 2 == 0 ? 0.35 : -0.35))", "as": "xpos"}],
 "mark": {"type": "point", "filled": true, "opacity": 1, "size": 200, "strokeWidth": 0},
 "encoding": {"x": {"field": "xpos", "type": "quantitative", "scale": {"domain": [0, 10], "nice": false, "zero": false}}, "y": {"field": "value", "type": "quantitative", "scale": {"domain": [0, 15], "nice": false}},
  "color": {"field": "series", "type": "nominal", "scale": {"domain": ["Baseline", "Treatment"], "range": ["#c0c0c0", "#78d2fd"]}, "legend": {"orient": "none", "legendX": -30, "legendY": -112, "title": null}},
  "shape": {"field": "series", "type": "nominal", "scale": {"domain": ["Baseline", "Treatment"], "range": ["circle", "square"]}, "legend": {"orient": "none", "legendX": -30, "legendY": -112, "title": null}}}},
{"data": {"name": "sig"}, "transform": [{"filter": "datum.panel == 'D'"}], "mark": {"type": "rule", "strokeWidth": 3, "color": "black"},
 "encoding": {"x": {"field": "x1", "type": "quantitative", "scale": {"domain": [0, 10], "nice": false, "zero": false}}, "x2": {"field": "x2"}, "y": {"field": "y", "type": "quantitative", "scale": {"domain": [0, 15], "nice": false}}}},
{"data": {"name": "sig"}, "transform": [{"filter": "datum.panel == 'D'"}], "mark": {"type": "text", "fontSize": 31, "fontStyle": "italic", "align": "right", "baseline": "alphabetic", "dx": -1, "color": "black"},
 "encoding": {"x": {"field": "tx", "type": "quantitative", "scale": {"domain": [0, 10], "nice": false, "zero": false}}, "y": {"field": "ty", "type": "quantitative", "scale": {"domain": [0, 15], "nice": false}}, "text": {"field": "p"}}},
{"data": {"name": "sig"}, "transform": [{"filter": "datum.panel == 'D'"}], "mark": {"type": "text", "fontSize": 31, "align": "left", "baseline": "alphabetic", "dx": 2, "color": "black"},
 "encoding": {"x": {"field": "tx", "type": "quantitative", "scale": {"domain": [0, 10], "nice": false, "zero": false}}, "y": {"field": "ty", "type": "quantitative", "scale": {"domain": [0, 15], "nice": false}}, "text": {"field": "label"}}}
]
},
{
"width": 463, "height": 278,
"title": {"text": "E", "dx": -105, "offset": -22},
"layer": [
{"data": {"values": [{}]}, "mark": {"type": "rule", "strokeWidth": 3, "color": "black", "strokeCap": "square"},
 "encoding": {"x": {"datum": 0, "type": "quantitative", "scale": {"domain": [0, 20.762], "nice": false, "zero": false}, "axis": {"values": [2.4, 7.55], "labelExpr": "datum.value < 5 ? 'Vehicle' : 'CRMP'", "title": null, "domain": false, "ticks": false, "labelPadding": 9, "labelFontSize": 31}}, "x2": {"datum": 10},
 "y": {"datum": 0, "type": "quantitative", "scale": {"domain": [0, 40], "nice": false}, "axis": {"values": [0, 10, 20, 30, 40], "title": "EGP (μmol/[Kg-min])", "titlePadding": 18, "labelPadding": -1, "titleY": 130}}}},
{"data": {"name": "stats"}, "transform": [{"filter": "datum.panel == 'E'"}, {"calculate": "(datum.cond == 'Vehicle' ? 1.35 : 6.68) + (datum.series == 'Treatment' ? 2 : 0)", "as": "xpos"}],
 "mark": {"type": "rule", "strokeWidth": 3, "color": "black"},
 "encoding": {"x": {"field": "xpos", "type": "quantitative", "scale": {"domain": [0, 20.762], "nice": false, "zero": false}}, "y": {"field": "lo", "type": "quantitative", "scale": {"domain": [0, 40], "nice": false}}, "y2": {"field": "hi"}}},
{"data": {"name": "stats"}, "transform": [{"filter": "datum.panel == 'E'"}, {"calculate": "(datum.cond == 'Vehicle' ? 1.35 : 6.68) + (datum.series == 'Treatment' ? 2 : 0)", "as": "xpos"}, {"fold": ["lo", "hi"], "as": ["bound", "bv"]}],
 "mark": {"type": "tick", "orient": "horizontal", "size": 17, "thickness": 3, "color": "black", "opacity": 1},
 "encoding": {"x": {"field": "xpos", "type": "quantitative", "scale": {"domain": [0, 20.762], "nice": false, "zero": false}}, "y": {"field": "bv", "type": "quantitative", "scale": {"domain": [0, 40], "nice": false}}}},
{"data": {"name": "stats"}, "transform": [{"filter": "datum.panel == 'E'"}, {"calculate": "(datum.cond == 'Vehicle' ? 1.35 : 6.68) + (datum.series == 'Treatment' ? 2 : 0)", "as": "xpos"}],
 "mark": {"type": "tick", "orient": "horizontal", "size": 30, "thickness": 3, "color": "black", "opacity": 1},
 "encoding": {"x": {"field": "xpos", "type": "quantitative", "scale": {"domain": [0, 20.762], "nice": false, "zero": false}}, "y": {"field": "mean", "type": "quantitative", "scale": {"domain": [0, 40], "nice": false}}}},
{"data": {"name": "pts"}, "transform": [{"filter": "datum.panel == 'E'"}, {"window": [{"op": "row_number", "as": "rn"}, {"op": "lag", "field": "value", "as": "prev"}, {"op": "lead", "field": "value", "as": "next"}], "groupby": ["cond", "series"], "sort": [{"field": "value", "order": "descending"}]}, {"calculate": "(datum.cond == 'Vehicle' ? 1.35 : 6.68) + (datum.series == 'Treatment' ? 2 : 0) + (((datum.prev == null || datum.prev - datum.value > 2) && (datum.next == null || datum.value - datum.next > 2)) ? 0 : (datum.rn % 2 == 0 ? 0.35 : -0.35))", "as": "xpos"}],
 "mark": {"type": "point", "filled": true, "opacity": 1, "size": 200, "strokeWidth": 0},
 "encoding": {"x": {"field": "xpos", "type": "quantitative", "scale": {"domain": [0, 20.762], "nice": false, "zero": false}}, "y": {"field": "value", "type": "quantitative", "scale": {"domain": [0, 40], "nice": false}},
  "color": {"field": "series", "type": "nominal", "scale": {"domain": ["Baseline", "Treatment"], "range": ["#c0c0c0", "#78d2fd"]}, "legend": {"orient": "none", "legendX": -6, "legendY": -115, "title": null}},
  "shape": {"field": "series", "type": "nominal", "scale": {"domain": ["Baseline", "Treatment"], "range": ["circle", "square"]}, "legend": {"orient": "none", "legendX": -6, "legendY": -115, "title": null}}}},
{"data": {"name": "sig"}, "transform": [{"filter": "datum.panel == 'E'"}], "mark": {"type": "rule", "strokeWidth": 3, "color": "black"},
 "encoding": {"x": {"field": "x1", "type": "quantitative", "scale": {"domain": [0, 20.762], "nice": false, "zero": false}}, "x2": {"field": "x2"}, "y": {"field": "y", "type": "quantitative", "scale": {"domain": [0, 40], "nice": false}}}},
{"data": {"name": "sig"}, "transform": [{"filter": "datum.panel == 'E'"}], "mark": {"type": "text", "fontSize": 30, "align": "center", "baseline": "alphabetic", "color": "black"},
 "encoding": {"x": {"field": "tx", "type": "quantitative", "scale": {"domain": [0, 20.762], "nice": false, "zero": false}}, "y": {"field": "ty", "type": "quantitative", "scale": {"domain": [0, 40], "nice": false}}, "text": {"field": "label"}}}
]
},
{
"width": 440, "height": 276,
"title": {"text": "F", "dx": -110, "offset": -12},
"layer": [
{"data": {"values": [{}]}, "mark": {"type": "rule", "strokeWidth": 3, "color": "black", "strokeCap": "square"},
 "encoding": {"x": {"datum": 0, "type": "quantitative", "scale": {"domain": [0, 20.183], "nice": false, "zero": false}, "axis": {"values": [2.4, 7.55], "labelExpr": "datum.value < 5 ? 'Vehicle' : 'CRMP'", "title": null, "domain": false, "ticks": false, "labelPadding": 9, "labelFontSize": 31}}, "x2": {"datum": 10},
 "y": {"datum": 0, "type": "quantitative", "scale": {"domain": [0, 0.015], "nice": false}, "axis": {"values": [0, 0.005, 0.01, 0.015], "format": ".3f", "title": "Hepatic Sensitivity Index", "titlePadding": 18, "labelPadding": -4, "labelFontSize": 31, "titleY": 119}}}},
{"data": {"name": "stats"}, "transform": [{"filter": "datum.panel == 'F'"}, {"calculate": "(datum.cond == 'Vehicle' ? 1.35 : 6.68) + (datum.series == 'Treatment' ? 2 : 0)", "as": "xpos"}],
 "mark": {"type": "rule", "strokeWidth": 3, "color": "black"},
 "encoding": {"x": {"field": "xpos", "type": "quantitative", "scale": {"domain": [0, 20.183], "nice": false, "zero": false}}, "y": {"field": "lo", "type": "quantitative", "scale": {"domain": [0, 0.015], "nice": false}}, "y2": {"field": "hi"}}},
{"data": {"name": "stats"}, "transform": [{"filter": "datum.panel == 'F'"}, {"calculate": "(datum.cond == 'Vehicle' ? 1.35 : 6.68) + (datum.series == 'Treatment' ? 2 : 0)", "as": "xpos"}, {"fold": ["lo", "hi"], "as": ["bound", "bv"]}],
 "mark": {"type": "tick", "orient": "horizontal", "size": 17, "thickness": 3, "color": "black", "opacity": 1},
 "encoding": {"x": {"field": "xpos", "type": "quantitative", "scale": {"domain": [0, 20.183], "nice": false, "zero": false}}, "y": {"field": "bv", "type": "quantitative", "scale": {"domain": [0, 0.015], "nice": false}}}},
{"data": {"name": "stats"}, "transform": [{"filter": "datum.panel == 'F'"}, {"calculate": "(datum.cond == 'Vehicle' ? 1.35 : 6.68) + (datum.series == 'Treatment' ? 2 : 0)", "as": "xpos"}],
 "mark": {"type": "tick", "orient": "horizontal", "size": 30, "thickness": 3, "color": "black", "opacity": 1},
 "encoding": {"x": {"field": "xpos", "type": "quantitative", "scale": {"domain": [0, 20.183], "nice": false, "zero": false}}, "y": {"field": "mean", "type": "quantitative", "scale": {"domain": [0, 0.015], "nice": false}}}},
{"data": {"name": "pts"}, "transform": [{"filter": "datum.panel == 'F'"}, {"window": [{"op": "row_number", "as": "rn"}, {"op": "lag", "field": "value", "as": "prev"}, {"op": "lead", "field": "value", "as": "next"}], "groupby": ["cond", "series"], "sort": [{"field": "value", "order": "descending"}]}, {"calculate": "(datum.cond == 'Vehicle' ? 1.35 : 6.68) + (datum.series == 'Treatment' ? 2 : 0) + (((datum.prev == null || datum.prev - datum.value > 0.00075) && (datum.next == null || datum.value - datum.next > 0.00075)) ? 0 : (datum.rn % 2 == 0 ? 0.35 : -0.35))", "as": "xpos"}],
 "mark": {"type": "point", "filled": true, "opacity": 1, "size": 200, "strokeWidth": 0},
 "encoding": {"x": {"field": "xpos", "type": "quantitative", "scale": {"domain": [0, 20.183], "nice": false, "zero": false}}, "y": {"field": "value", "type": "quantitative", "scale": {"domain": [0, 0.015], "nice": false}},
  "color": {"field": "series", "type": "nominal", "scale": {"domain": ["Baseline", "Treatment"], "range": ["#c0c0c0", "#78d2fd"]}, "legend": {"orient": "none", "legendX": -1, "legendY": -110, "title": null}},
  "shape": {"field": "series", "type": "nominal", "scale": {"domain": ["Baseline", "Treatment"], "range": ["circle", "square"]}, "legend": {"orient": "none", "legendX": -1, "legendY": -110, "title": null}}}},
{"data": {"name": "sig"}, "transform": [{"filter": "datum.panel == 'F'"}], "mark": {"type": "rule", "strokeWidth": 3, "color": "black"},
 "encoding": {"x": {"field": "x1", "type": "quantitative", "scale": {"domain": [0, 20.183], "nice": false, "zero": false}}, "x2": {"field": "x2"}, "y": {"field": "y", "type": "quantitative", "scale": {"domain": [0, 0.015], "nice": false}}}},
{"data": {"name": "sig"}, "transform": [{"filter": "datum.panel == 'F'"}], "mark": {"type": "text", "fontSize": 30, "align": "center", "baseline": "alphabetic", "color": "black"},
 "encoding": {"x": {"field": "tx", "type": "quantitative", "scale": {"domain": [0, 20.183], "nice": false, "zero": false}}, "y": {"field": "ty", "type": "quantitative", "scale": {"domain": [0, 0.015], "nice": false}}, "text": {"field": "label"}}}
]
},
{
"width": 508, "height": 276,
"title": {"text": "G", "dx": -109, "offset": -18},
"layer": [
{"data": {"values": [{}]}, "mark": {"type": "rule", "strokeWidth": 3, "color": "black", "strokeCap": "square"},
 "encoding": {"x": {"datum": 0, "type": "quantitative", "scale": {"domain": [0, 23.41], "nice": false, "zero": false}, "axis": {"values": [2.4, 7.55], "labelExpr": "datum.value < 5 ? 'Vehicle' : 'CRMP'", "title": null, "domain": false, "ticks": false, "labelPadding": 9, "labelFontSize": 31}}, "x2": {"datum": 10},
 "y": {"datum": 0, "type": "quantitative", "scale": {"domain": [0, 25], "nice": false}, "axis": {"values": [0, 5, 10, 15, 20, 25], "title": "VPC(μmol/(Kg-min])", "titlePadding": 11, "labelPadding": -1, "titleY": 126}}}},
{"data": {"name": "stats"}, "transform": [{"filter": "datum.panel == 'G'"}, {"calculate": "(datum.cond == 'Vehicle' ? 1.35 : 6.68) + (datum.series == 'Treatment' ? 2 : 0)", "as": "xpos"}],
 "mark": {"type": "rule", "strokeWidth": 3, "color": "black"},
 "encoding": {"x": {"field": "xpos", "type": "quantitative", "scale": {"domain": [0, 23.41], "nice": false, "zero": false}}, "y": {"field": "lo", "type": "quantitative", "scale": {"domain": [0, 25], "nice": false}}, "y2": {"field": "hi"}}},
{"data": {"name": "stats"}, "transform": [{"filter": "datum.panel == 'G'"}, {"calculate": "(datum.cond == 'Vehicle' ? 1.35 : 6.68) + (datum.series == 'Treatment' ? 2 : 0)", "as": "xpos"}, {"fold": ["lo", "hi"], "as": ["bound", "bv"]}],
 "mark": {"type": "tick", "orient": "horizontal", "size": 17, "thickness": 3, "color": "black", "opacity": 1},
 "encoding": {"x": {"field": "xpos", "type": "quantitative", "scale": {"domain": [0, 23.41], "nice": false, "zero": false}}, "y": {"field": "bv", "type": "quantitative", "scale": {"domain": [0, 25], "nice": false}}}},
{"data": {"name": "stats"}, "transform": [{"filter": "datum.panel == 'G'"}, {"calculate": "(datum.cond == 'Vehicle' ? 1.35 : 6.68) + (datum.series == 'Treatment' ? 2 : 0)", "as": "xpos"}],
 "mark": {"type": "tick", "orient": "horizontal", "size": 30, "thickness": 3, "color": "black", "opacity": 1},
 "encoding": {"x": {"field": "xpos", "type": "quantitative", "scale": {"domain": [0, 23.41], "nice": false, "zero": false}}, "y": {"field": "mean", "type": "quantitative", "scale": {"domain": [0, 25], "nice": false}}}},
{"data": {"name": "pts"}, "transform": [{"filter": "datum.panel == 'G'"}, {"window": [{"op": "row_number", "as": "rn"}, {"op": "lag", "field": "value", "as": "prev"}, {"op": "lead", "field": "value", "as": "next"}], "groupby": ["cond", "series"], "sort": [{"field": "value", "order": "descending"}]}, {"calculate": "(datum.cond == 'Vehicle' ? 1.35 : 6.68) + (datum.series == 'Treatment' ? 2 : 0) + (((datum.prev == null || datum.prev - datum.value > 1.25) && (datum.next == null || datum.value - datum.next > 1.25)) ? 0 : (datum.rn % 2 == 0 ? 0.35 : -0.35))", "as": "xpos"}],
 "mark": {"type": "point", "filled": true, "opacity": 1, "size": 200, "strokeWidth": 0},
 "encoding": {"x": {"field": "xpos", "type": "quantitative", "scale": {"domain": [0, 23.41], "nice": false, "zero": false}}, "y": {"field": "value", "type": "quantitative", "scale": {"domain": [0, 25], "nice": false}},
  "color": {"field": "series", "type": "nominal", "scale": {"domain": ["Baseline", "Treatment"], "range": ["#c0c0c0", "#78d2fd"]}, "legend": {"orient": "none", "legendX": -1, "legendY": -113, "title": null}},
  "shape": {"field": "series", "type": "nominal", "scale": {"domain": ["Baseline", "Treatment"], "range": ["circle", "square"]}, "legend": {"orient": "none", "legendX": -1, "legendY": -113, "title": null}}}},
{"data": {"name": "sig"}, "transform": [{"filter": "datum.panel == 'G'"}], "mark": {"type": "rule", "strokeWidth": 3, "color": "black"},
 "encoding": {"x": {"field": "x1", "type": "quantitative", "scale": {"domain": [0, 23.41], "nice": false, "zero": false}}, "x2": {"field": "x2"}, "y": {"field": "y", "type": "quantitative", "scale": {"domain": [0, 25], "nice": false}}}},
{"data": {"name": "sig"}, "transform": [{"filter": "datum.panel == 'G'"}], "mark": {"type": "text", "fontSize": 31, "fontStyle": "italic", "align": "right", "baseline": "alphabetic", "dx": -1, "color": "black"},
 "encoding": {"x": {"field": "tx", "type": "quantitative", "scale": {"domain": [0, 23.41], "nice": false, "zero": false}}, "y": {"field": "ty", "type": "quantitative", "scale": {"domain": [0, 25], "nice": false}}, "text": {"field": "p"}}},
{"data": {"name": "sig"}, "transform": [{"filter": "datum.panel == 'G'"}], "mark": {"type": "text", "fontSize": 31, "align": "left", "baseline": "alphabetic", "dx": 2, "color": "black"},
 "encoding": {"x": {"field": "tx", "type": "quantitative", "scale": {"domain": [0, 23.41], "nice": false, "zero": false}}, "y": {"field": "ty", "type": "quantitative", "scale": {"domain": [0, 25], "nice": false}}, "text": {"field": "label"}}}
]
},
{
"width": 224, "height": 277,
"title": {"text": "H", "dx": -100, "offset": -20},
"layer": [
{"data": {"values": [{}]}, "mark": {"type": "rule", "strokeWidth": 3, "color": "black", "strokeCap": "square"},
 "encoding": {"x": {"datum": 0, "type": "quantitative", "scale": {"domain": [0, 10.228], "nice": false, "zero": false}, "axis": {"values": [2.4, 7.55], "labelExpr": "datum.value < 5 ? 'Vehicle' : 'CRMP'", "title": null, "domain": false, "ticks": false, "labelPadding": 9, "labelFontSize": 31}}, "x2": {"datum": 10},
 "y": {"datum": 0, "type": "quantitative", "scale": {"domain": [0, 20], "nice": false}, "axis": {"values": [0, 5, 10, 15, 20], "title": ["βOHB Turnover", "(μmol/[Kg-min])"], "titlePadding": 3, "labelPadding": -2, "titleY": 125}}}},
{"data": {"name": "stats"}, "transform": [{"filter": "datum.panel == 'H'"}, {"calculate": "(datum.cond == 'Vehicle' ? 1.35 : 6.68) + (datum.series == 'Treatment' ? 2 : 0)", "as": "xpos"}],
 "mark": {"type": "rule", "strokeWidth": 3},
 "encoding": {"x": {"field": "xpos", "type": "quantitative", "scale": {"domain": [0, 10.228], "nice": false, "zero": false}}, "y": {"field": "lo", "type": "quantitative", "scale": {"domain": [0, 20], "nice": false}}, "y2": {"field": "hi"},
  "color": {"condition": {"test": "datum.cond == 'Vehicle' && datum.series == 'Treatment'", "value": "#78d2fd"}, "value": "black"}}},
{"data": {"name": "stats"}, "transform": [{"filter": "datum.panel == 'H'"}, {"calculate": "(datum.cond == 'Vehicle' ? 1.35 : 6.68) + (datum.series == 'Treatment' ? 2 : 0)", "as": "xpos"}, {"fold": ["lo", "hi"], "as": ["bound", "bv"]}],
 "mark": {"type": "tick", "orient": "horizontal", "size": 17, "thickness": 3, "opacity": 1},
 "encoding": {"x": {"field": "xpos", "type": "quantitative", "scale": {"domain": [0, 10.228], "nice": false, "zero": false}}, "y": {"field": "bv", "type": "quantitative", "scale": {"domain": [0, 20], "nice": false}},
  "color": {"condition": {"test": "datum.cond == 'Vehicle' && datum.series == 'Treatment'", "value": "#78d2fd"}, "value": "black"}}},
{"data": {"name": "stats"}, "transform": [{"filter": "datum.panel == 'H'"}, {"calculate": "(datum.cond == 'Vehicle' ? 1.35 : 6.68) + (datum.series == 'Treatment' ? 2 : 0)", "as": "xpos"}],
 "mark": {"type": "tick", "orient": "horizontal", "size": 30, "thickness": 3, "color": "black", "opacity": 1},
 "encoding": {"x": {"field": "xpos", "type": "quantitative", "scale": {"domain": [0, 10.228], "nice": false, "zero": false}}, "y": {"field": "mean", "type": "quantitative", "scale": {"domain": [0, 20], "nice": false}}}},
{"data": {"name": "pts"}, "transform": [{"filter": "datum.panel == 'H'"}, {"window": [{"op": "row_number", "as": "rn"}, {"op": "lag", "field": "value", "as": "prev"}, {"op": "lead", "field": "value", "as": "next"}], "groupby": ["cond", "series"], "sort": [{"field": "value", "order": "descending"}]}, {"calculate": "(datum.cond == 'Vehicle' ? 1.35 : 6.68) + (datum.series == 'Treatment' ? 2 : 0) + (((datum.prev == null || datum.prev - datum.value > 1) && (datum.next == null || datum.value - datum.next > 1)) ? 0 : (datum.rn % 2 == 0 ? 0.35 : -0.35))", "as": "xpos"}],
 "mark": {"type": "point", "filled": true, "opacity": 1, "size": 200, "strokeWidth": 0},
 "encoding": {"x": {"field": "xpos", "type": "quantitative", "scale": {"domain": [0, 10.228], "nice": false, "zero": false}}, "y": {"field": "value", "type": "quantitative", "scale": {"domain": [0, 20], "nice": false}},
  "color": {"field": "series", "type": "nominal", "scale": {"domain": ["Baseline", "Treatment"], "range": ["#c0c0c0", "#78d2fd"]}, "legend": {"orient": "none", "legendX": -13, "legendY": -113, "title": null}},
  "shape": {"field": "series", "type": "nominal", "scale": {"domain": ["Baseline", "Treatment"], "range": ["circle", "square"]}, "legend": {"orient": "none", "legendX": -13, "legendY": -113, "title": null}}}},
{"data": {"name": "sig"}, "transform": [{"filter": "datum.panel == 'H'"}], "mark": {"type": "rule", "strokeWidth": 3, "color": "black"},
 "encoding": {"x": {"field": "x1", "type": "quantitative", "scale": {"domain": [0, 10.228], "nice": false, "zero": false}}, "x2": {"field": "x2"}, "y": {"field": "y", "type": "quantitative", "scale": {"domain": [0, 20], "nice": false}}}},
{"data": {"name": "sig"}, "transform": [{"filter": "datum.panel == 'H'"}], "mark": {"type": "text", "fontSize": 31, "fontStyle": "italic", "align": "right", "baseline": "alphabetic", "dx": -1, "color": "black"},
 "encoding": {"x": {"field": "tx", "type": "quantitative", "scale": {"domain": [0, 10.228], "nice": false, "zero": false}}, "y": {"field": "ty", "type": "quantitative", "scale": {"domain": [0, 20], "nice": false}}, "text": {"field": "p"}}},
{"data": {"name": "sig"}, "transform": [{"filter": "datum.panel == 'H'"}], "mark": {"type": "text", "fontSize": 31, "align": "left", "baseline": "alphabetic", "dx": 2, "color": "black"},
 "encoding": {"x": {"field": "tx", "type": "quantitative", "scale": {"domain": [0, 10.228], "nice": false, "zero": false}}, "y": {"field": "ty", "type": "quantitative", "scale": {"domain": [0, 20], "nice": false}}, "text": {"field": "label"}}}
]
}
],
"config": {
 "font": "Liberation Sans",
 "view": {"stroke": null},
 "axis": {"grid": false, "domainColor": "black", "domainWidth": 3, "tickColor": "black", "tickWidth": 3, "tickSize": 11, "labelFont": "Liberation Sans", "labelFontSize": 30, "labelColor": "black", "labelFlush": false, "labelOverlap": false, "titleFont": "Liberation Sans", "titleFontSize": 32, "titleFontWeight": "normal", "titleColor": "black", "titleLineHeight": 36},
 "legend": {"labelFont": "Liberation Sans", "labelFontSize": 31, "labelColor": "black", "symbolSize": 225, "symbolStrokeWidth": 0, "symbolOpacity": 1, "labelOffset": 18.5, "rowPadding": 5, "padding": 0},
 "title": {"font": "Liberation Sans", "fontSize": 56, "fontWeight": "normal", "color": "black", "anchor": "start", "frame": "group", "baseline": "alphabetic"},
 "text": {"font": "Liberation Sans", "color": "black"}
}
}
